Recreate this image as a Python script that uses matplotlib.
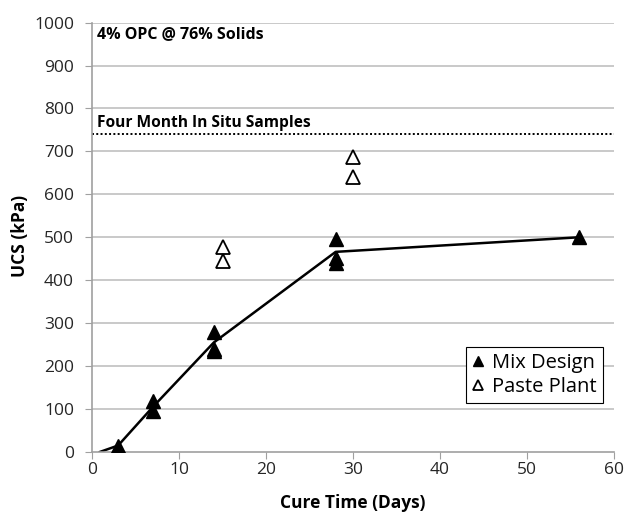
import matplotlib.pyplot as plt

# Mix design (lab) results
mix_days = [3, 7, 7, 14, 14, 14, 28, 28, 28, 56]
mix_ucs = [15, 118, 95, 280, 240, 235, 495, 452, 440, 500]

# Paste plant samples
plant_days = [15, 15, 30, 30]
plant_ucs = [478, 445, 688, 640]

# trend line through mix design averages
trend_days = [0.9, 3, 7, 14, 28, 56]
trend_ucs = [0, 15, 105, 255, 466, 500]

in_situ = 740

plt.rcParams['font.family'] = ['Open Sans', 'DejaVu Sans']

fig = plt.figure(figsize=(6.26, 5.13), dpi=100)
ax = fig.add_axes([0.147, 0.119, 0.834, 0.837])

for y in range(100, 1001, 100):
    ax.axhline(y, color='#c0c0c0', lw=1.2, zorder=0)

ax.plot(trend_days, trend_ucs, color='black', lw=1.8, zorder=2)
ax.plot(mix_days, mix_ucs, ls='none', marker='^', ms=10, color='black',
        label='Mix Design', zorder=3)
ax.plot(plant_days, plant_ucs, ls='none', marker='^', ms=10, mfc='white',
        mec='black', mew=1.3, label='Paste Plant', zorder=3)
ax.axhline(in_situ, color='black', ls=(0, (1, 1.2)), lw=1.4, zorder=2)

ax.text(0.6, 974, '4% OPC @ 76% Solids', fontsize=11.5, fontweight='bold', va='center')
ax.text(0.6, 767, 'Four Month In Situ Samples', fontsize=11.2, fontweight='bold', va='center')

ax.set_xlim(0, 60)
ax.set_ylim(0, 1000)
ax.set_xticks(range(0, 61, 10))
ax.set_yticks(range(0, 1001, 100))
ax.tick_params(labelsize=12.5, labelcolor='#262626', color='#a0a0a0', direction='out')
ax.tick_params(axis='y', length=5, pad=8)
ax.tick_params(axis='x', length=5, pad=2)
for s in ['top', 'right']:
    ax.spines[s].set_visible(False)
for s in ['left', 'bottom']:
    ax.spines[s].set_color('#a0a0a0')
    ax.spines[s].set_linewidth(1.2)

ax.set_xlabel('Cure Time (Days)', fontsize=12.5, fontweight='bold')
ax.set_ylabel('UCS (kPa)', fontsize=12.5, fontweight='bold')
ax.xaxis.set_label_coords(0.5, -0.098)
ax.yaxis.set_label_coords(-0.12, 0.503)

leg = ax.legend(loc='lower right', bbox_to_anchor=(0.979, 0.114), borderaxespad=0,
                fontsize=14.5, fancybox=False, framealpha=1, edgecolor='black',
                markerscale=0.7, handlelength=0.6, handletextpad=0.4,
                borderpad=0.3, labelspacing=0.2)
leg.get_frame().set_linewidth(0.8)

fig.savefig('out.png', dpi=100)
